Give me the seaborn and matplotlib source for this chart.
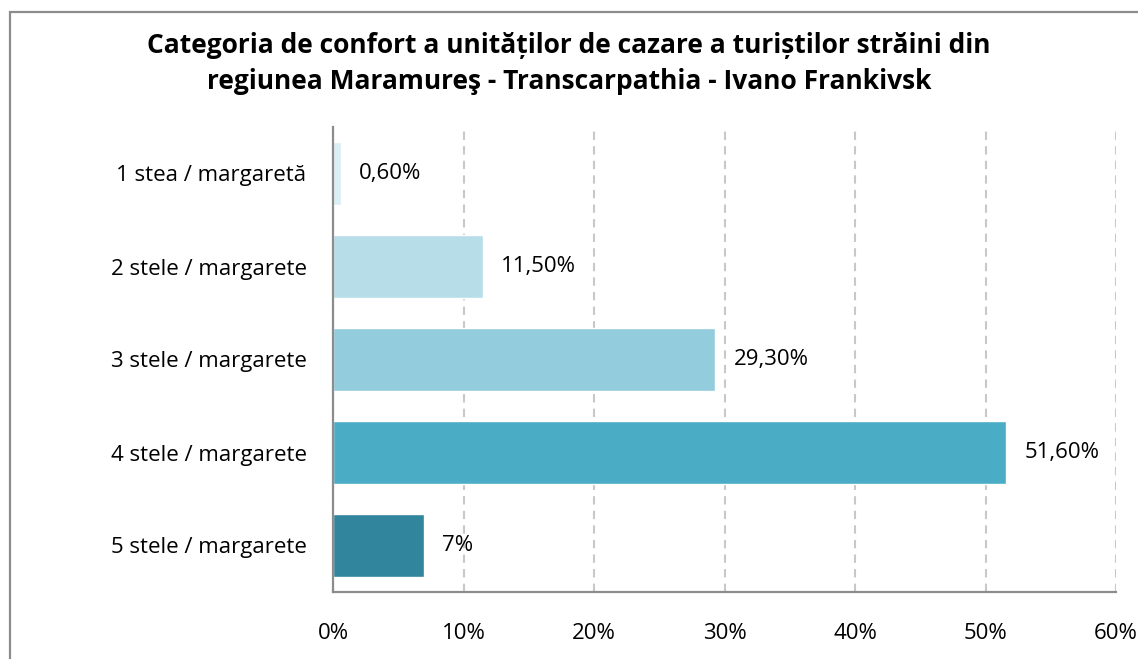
import matplotlib
matplotlib.use("Agg")
import matplotlib.pyplot as plt
import seaborn as sns
import pandas as pd
from matplotlib.patches import Rectangle
from matplotlib.ticker import FixedLocator

categories = ["1 stea / margaretă", "2 stele / margarete", "3 stele / margarete",
              "4 stele / margarete", "5 stele / margarete"]
values = [0.6, 11.5, 29.3, 51.6, 7.0]
value_labels = ["0,60%", "11,50%", "29,30%", "51,60%", "7%"]
xticks = [0, 10, 20, 30, 40, 50, 60]
xtick_labels = ["0%", "10%", "20%", "30%", "40%", "50%", "60%"]
colors = ["#DAEEF3", "#B7DEE8", "#93CDDD", "#4BACC6", "#31859C"]
title = ("Categoria de confort a unităților de cazare a turiștilor străini din\n"
         "regiunea Maramureş - Transcarpathia - Ivano Frankivsk")

sns.set_theme(style="white")
plt.rcParams["font.family"] = ["Open Sans", "DejaVu Sans"]
plt.rcParams["text.color"] = "#000000"

df = pd.DataFrame({"cat": categories, "val": values})

fig = plt.figure(figsize=(11.38, 6.59), dpi=100)
ax = fig.add_axes([333 / 1138, 1 - 592 / 659, (1116 - 333) / 1138, (592 - 127) / 659])

sns.barplot(data=df, x="val", y="cat", hue="cat", palette=colors, orient="h",
            width=0.68, legend=False, ax=ax, saturation=1)

ax.set_xlim(0, 60)
ax.xaxis.set_major_locator(FixedLocator(xticks))
ax.set_xticklabels(xtick_labels)
ax.set_xlabel("")
ax.set_ylabel("")
ax.grid(axis="x", linestyle=(0, (4, 3)), color="#C8C8C8", linewidth=1.5)
ax.grid(axis="y", visible=False)
ax.set_axisbelow(True)

for s in ["top", "right"]:
    ax.spines[s].set_visible(False)
for s in ["left", "bottom"]:
    ax.spines[s].set_color("#8C8C8C")
    ax.spines[s].set_linewidth(1.6)

fs = 16
ax.tick_params(axis="x", length=0, pad=22, labelsize=fs, labelcolor="#000000")
ax.tick_params(axis="y", length=0, pad=19, labelsize=fs, labelcolor="#000000")

for container in ax.containers:
    labs = [value_labels[int(round(p.get_y() + p.get_height() / 2))] for p in container]
    ax.bar_label(container, labels=labs, padding=13, fontsize=fs, color="#000000")

fig.text(0.5, 1 - 63.5 / 659, title, ha="center", va="center", fontsize=19,
         fontweight="bold", linespacing=1.42, color="#000000")

fig.patches.append(Rectangle((10 / 1138, -0.1), 1.2, 1 - 12 / 659 + 0.1,
                             transform=fig.transFigure, fill=False,
                             edgecolor="#8C8C8C", linewidth=1.6))

fig.savefig("out.png", dpi=100)
